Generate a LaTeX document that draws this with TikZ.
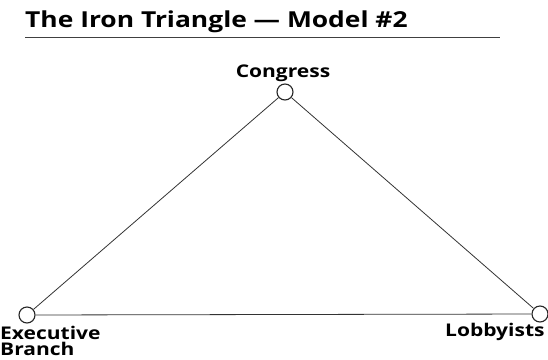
\documentclass[tikz,border=0pt]{standalone}
\usepackage{fontspec}
\setmainfont{Open Sans}[FakeStretch=1.2]
\begin{document}
\begin{tikzpicture}[x=1pt,y=-1pt,
  vert/.style={circle,draw=black!85,line width=1.1pt,fill=white,minimum size=16pt,inner sep=0pt},
  lab/.style={font=\bfseries\fontsize{17.5}{16}\selectfont,inner sep=0pt},
  edge/.style={draw=black!80,line width=0.8pt}]
\useasboundingbox (0,0) rectangle (548,359);
\node[anchor=base west,inner sep=0pt,font=\bfseries\fontsize{22}{20}\selectfont] (title) at (25,27) {The Iron Triangle — Model \#2};
\coordinate (rl) at (25,37);
\coordinate (rr) at (500,37);
\draw[draw=black!75,line width=1pt] (rl) -- (rr);
\node[vert] (c) at (285,92) {};
\node[vert] (e) at (27,315) {};
\node[vert] (l) at (540,314) {};
\draw[edge] (c) -- (e);
\draw[edge] (c) -- (l);
\draw[edge] (e) -- (l);
\node[lab,anchor=base] (cl) at (283,77) {Congress};
\node[lab,anchor=base west,align=left] (el) at (0,355) {Executive\\Branch};
\node[lab,anchor=base west] (ll) at (445,336) {Lobbyists};
\end{tikzpicture}
\end{document}
